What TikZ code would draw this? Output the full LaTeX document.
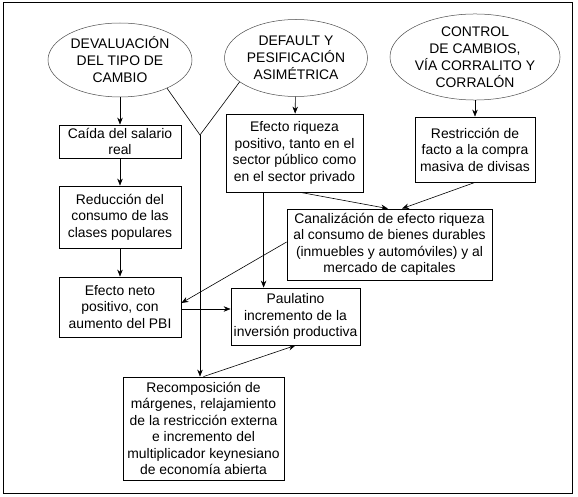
\documentclass[tikz,border=0pt]{standalone}
\usepackage{fontspec}
\setmainfont{Liberation Sans}
\usetikzlibrary{positioning,arrows.meta,shapes.geometric,calc}

\begin{document}
\begin{tikzpicture}[x=1pt, y=-1pt,
    cause/.style={ellipse, draw=black!70, line width=0.5pt, align=center, inner sep=0pt, font=\fontsize{13.9}{17}\selectfont},
    effect/.style={draw, line width=0.8pt, align=center, inner sep=0pt, font=\fontsize{13.9}{16.5}\selectfont},
    arrow/.style={-{Stealth[length=7pt,width=5.5pt]}, line width=0.6pt},
    link/.style={line width=0.6pt}
]
\useasboundingbox (0,0) rectangle (578,497);
\draw[line width=0.8pt] (3,2.5) rectangle (572.5,493);

% Causes
\node[cause, minimum width=144pt, minimum height=74pt] (deval) at (120,60) {DEVALUACIÓN\\DEL TIPO DE\\CAMBIO};
\node[cause, minimum width=143pt, minimum height=77pt] (default) at (296,58) {DEFAULT Y\\PESIFICACIÓN\\ASIMÉTRICA};
\node[cause, minimum width=160pt, minimum height=84pt] (control) at (475,57) {CONTROL\\DE CAMBIOS,\\VÍA CORRALITO Y\\CORRALÓN};

% Effects
\node[effect, minimum width=122pt, minimum height=33pt] (salario) at (120,141.5) {Caída del salario\\real};
\node[effect, minimum width=122pt, minimum height=62pt] (consumo) at (120,217) {Reducción del\\consumo de las\\clases populares};
\node[effect, minimum width=122pt, minimum height=60pt] (neto) at (120,307) {Efecto neto\\positivo, con\\aumento del PBI};
\node[effect, minimum width=137pt, minimum height=78pt] (riqueza) at (294.5,153) {Efecto riqueza\\positivo, tanto en el\\sector público como\\en el sector privado};
\node[effect, minimum width=120pt, minimum height=65pt] (divisas) at (475,149.5) {Restricción de\\facto a la compra\\masiva de divisas};
\node[effect, minimum width=205pt, minimum height=71pt] (canal) at (389.5,244.5) {Canalizáción de efecto riqueza\\al consumo de bienes durables\\(inmuebles y automóviles) y al\\mercado de capitales};
\node[effect, minimum width=129pt, minimum height=57pt] (inversion) at (295.5,316.5) {Paulatino\\incremento de la\\inversión productiva};
\node[effect, minimum width=161pt, minimum height=103pt] (margenes) at (203.5,428.5) {Recomposición de\\márgenes, relajamiento\\de la restricción externa\\e incremento del\\multiplicador keynesiano\\de economía abierta};

% Connectors
\coordinate (merge) at (200,135);
\draw[link] (deval.-31) -- (merge) -- (default.203);
\draw[arrow] (merge) -- (merge |- margenes.north);
\draw[arrow] (deval) -- (salario);
\draw[arrow] (salario) -- (consumo);
\draw[arrow] (consumo) -- (neto);
\draw[arrow] (default) -- (riqueza);
\draw[arrow] (control.south) -- (divisas.north);
\draw[arrow] ([xshift=6pt]riqueza.south) -- ([xshift=-1.5pt]canal.north);
\draw[arrow] (divisas.south) -- ([xshift=12.5pt]canal.north);
\draw[arrow] ([xshift=38pt]riqueza.south west) -- ([xshift=38pt]riqueza.south west |- inversion.north);
\draw[arrow] ([yshift=2.5pt]canal.west) -- ([yshift=4pt]neto.east);
\draw[arrow] ([yshift=-2pt]neto.east) -- ([yshift=-2pt]neto.east -| inversion.west);
\draw[arrow] (margenes.north) -- (inversion.south);

\end{tikzpicture}
\end{document}
